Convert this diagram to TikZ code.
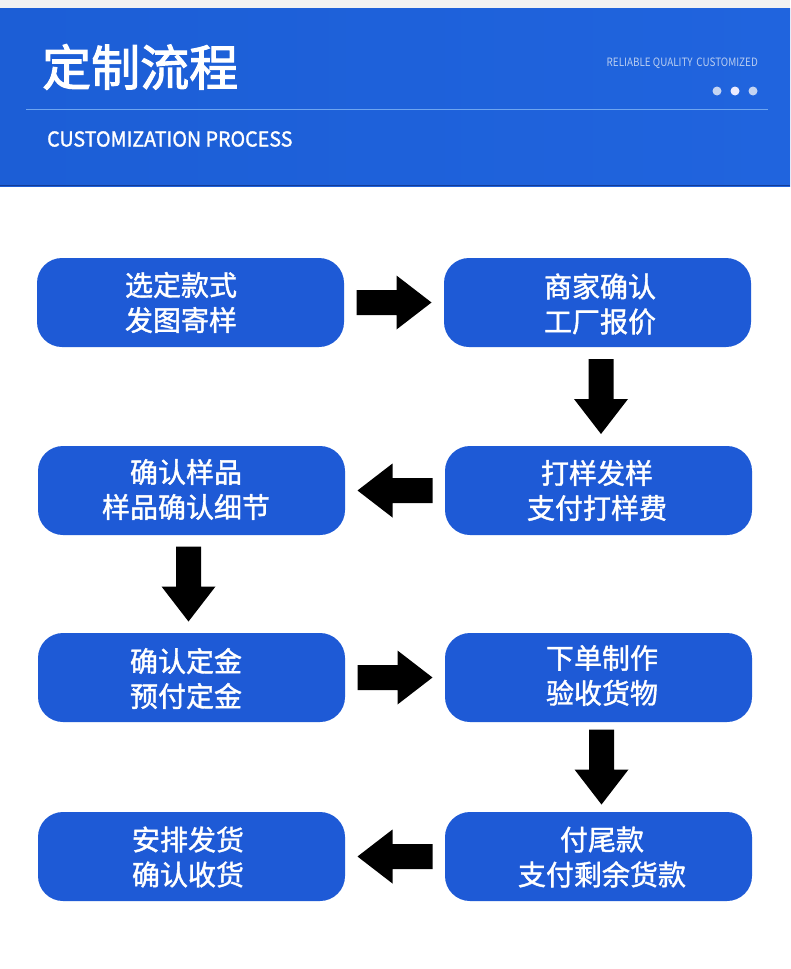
\documentclass[tikz,border=0pt]{standalone}
\usepackage{fontspec}
\setmainfont{Noto Sans CJK SC}
\newfontfamily\cjk{Noto Sans CJK SC}
\newfontfamily\cjkm[FakeBold=1.4]{Noto Sans CJK SC}
\newfontfamily\cjkt[FakeBold=2.2]{Noto Sans CJK SC}
\usetikzlibrary{calc}
\definecolor{boxblue}{RGB}{30,90,214}
\definecolor{hdrA}{RGB}{28,94,214}
\definecolor{hdrB}{RGB}{50,116,228}
\definecolor{hdrC}{RGB}{32,100,222}
\definecolor{hdrline}{RGB}{110,165,240}
\definecolor{hdrdark}{RGB}{20,60,150}
\definecolor{subtxt}{RGB}{185,205,240}
\tikzset{
  stepbox/.style={fill=boxblue, rounded corners=25pt, minimum width=307pt, minimum height=89pt, inner sep=0pt},
  steptext/.style={text=white, align=center, inner sep=0pt, font=\cjkm\fontsize{28}{35}\selectfont},
  blockarr/.pic={\fill[black] (-37.5,-12.5) -- (2.5,-12.5) -- (2.5,-27) -- (37.5,0) -- (2.5,27) -- (2.5,12.5) -- (-37.5,12.5) -- cycle;},
}
\begin{document}
\begin{tikzpicture}[x=1pt,y=-1pt]
\useasboundingbox (0,0) rectangle (790,969);
\fill[white] (0,0) rectangle (790,969);
% header
\fill[gray!10] (0,0) rectangle (790,8);
\shade[left color=hdrA, middle color=hdrB, right color=hdrC, shading angle=90] (0,8) rectangle (790,186);
\draw[hdrdark, line width=1.2pt] (0,185.4) -- (790,185.4);
\draw[hdrline, line width=1pt] (26,109) -- (768,109);
\node[anchor=west, text=white, inner sep=0pt, font=\cjkt\fontsize{49}{49}\selectfont] (title) at (42,67) {定制流程};
\node[anchor=west, text=white, inner sep=0pt, font=\cjkm\fontsize{20.5}{21}\selectfont, xscale=0.96] (subtitle) at (47,139) {CUSTOMIZATION PROCESS};
\node[anchor=east, text=subtxt, inner sep=0pt, font=\cjk\fontsize{11.5}{11.5}\selectfont, xscale=0.86] (tag) at (758,63) {RELIABLE QUALITY\, CUSTOMIZED};
\fill[subtxt!85!white] (717,91) circle (4.5);
\fill[white!92!blue] (735,91) circle (4.5);
\fill[subtxt!85!white] (753,91) circle (4.5);
% boxes
\node[stepbox] (b1) at (190.5,302.5) {};
\node[stepbox] (b2) at (597.5,302.5) {};
\node[stepbox] (b3) at (598.5,490.5) {};
\node[stepbox] (b4) at (191.5,490.5) {};
\node[stepbox] (b5) at (191.5,677.5) {};
\node[stepbox] (b6) at (598.5,677.5) {};
\node[stepbox] (b7) at (598.5,856.5) {};
\node[stepbox] (b8) at (191.5,856.5) {};
% texts
\node[steptext] (t1) at ($(b1)+(-9.5,0)$) {选定款式\\发图寄样};
\node[steptext] (t2) at ($(b2)+(2.5,1.5)$) {商家确认\\工厂报价};
\node[steptext] (t3) at ($(b3)+(-1.5,0)$) {打样发样\\支付打样费};
\node[steptext] (t4) at ($(b4)+(-5.5,-1)$) {确认样品\\样品确认细节};
\node[steptext] (t5) at ($(b5)+(-5.5,1)$) {确认定金\\预付定金};
\node[steptext] (t6) at ($(b6)+(3.5,-2)$) {下单制作\\验收货物};
\node[steptext] (t7) at ($(b7)+(3.5,0.5)$) {付尾款\\支付剩余货款};
\node[steptext] (t8) at ($(b8)+(-3.5,0.5)$) {安排发货\\确认收货};
% arrows
\pic at ($(b1.east)!0.5!(b2.west)$) {blockarr};
\pic[rotate=-90] at ($(b2.south)!0.5!(b3.north)+(3,0)$) {blockarr};
\pic[rotate=180] at ($(b3.west)!0.5!(b4.east)$) {blockarr};
\pic[rotate=-90] at ($(b4.south)!0.5!(b5.north)+(-3,0)$) {blockarr};
\pic at ($(b5.east)!0.5!(b6.west)$) {blockarr};
\pic[rotate=-90] at ($(b6.south)!0.5!(b7.north)+(3,0)$) {blockarr};
\pic[rotate=180] at ($(b7.west)!0.5!(b8.east)$) {blockarr};
\end{tikzpicture}
\end{document}
